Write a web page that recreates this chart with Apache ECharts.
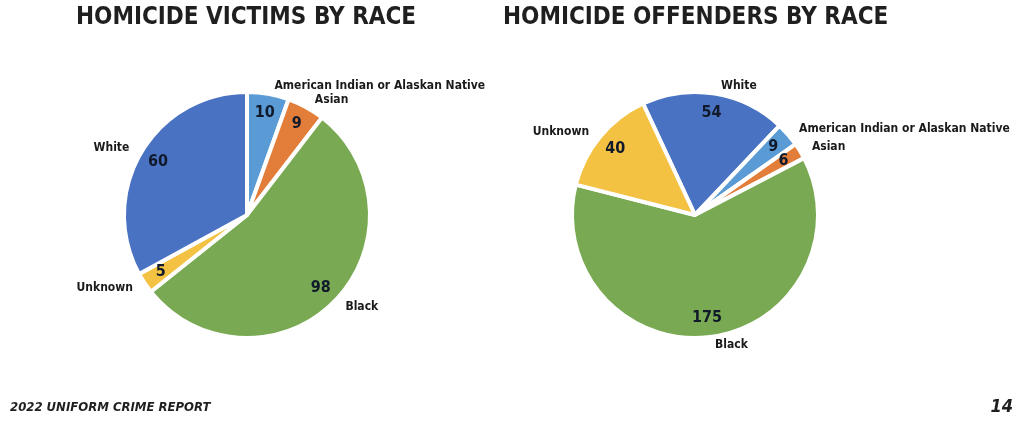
<!DOCTYPE html>
<html>
<head>
<meta charset="utf-8">
<script src="https://cdn.jsdelivr.net/npm/echarts@6/dist/echarts.min.js"></script>
<style>
html,body{margin:0;padding:0;background:#fff;}
#chart{width:1024px;height:425px;}
</style>
</head>
<body>
<div id="chart"></div>
<script>
const categories = ['American Indian or Alaskan Native', 'Asian', 'Black', 'Unknown', 'White'];
const victims = [10, 9, 98, 5, 60];
const offenders = [9, 6, 175, 40, 54];
const victimOrder = [0, 1, 2, 3, 4];
const offenderOrder = [4, 0, 1, 2, 3];
const colors = {
  'American Indian or Alaskan Native': '#5B9BD5',
  'Asian': '#E37D3A',
  'Black': '#79AA53',
  'Unknown': '#F4C242',
  'White': '#4A72C2'
};
const titles = ['HOMICIDE VICTIMS BY RACE', 'HOMICIDE OFFENDERS BY RACE'];
const footer = '2022 UNIFORM CRIME REPORT';
const pageNum = '14';

const FONT = "'DejaVu Sans Condensed', 'Liberation Sans Narrow', sans-serif";

function buildData(values, order) {
  return order.map(i => ({
    name: categories[i],
    value: values[i],
    itemStyle: { color: colors[categories[i]] }
  }));
}

function pieSeries(values, order, center, startAngle) {
  const data = buildData(values, order);
  return [
    {
      type: 'pie',
      center: center,
      radius: 123,
      startAngle: startAngle,
      clockwise: true,
      silent: true,
      avoidLabelOverlap: true,
      itemStyle: { borderColor: '#fff', borderWidth: 4 },
      label: {
        show: true,
        position: 'outside',
        formatter: '{b}',
        color: '#1a1a1a',
        fontFamily: FONT,
        fontWeight: 'bold',
        fontSize: 12,
        overflow: 'none'
      },
      labelLine: { show: false, length: 8, length2: 0 },
      emphasis: { disabled: true },
      data: data
    },
    {
      type: 'pie',
      center: center,
      radius: [78, 123],
      startAngle: startAngle,
      clockwise: true,
      silent: true,
      itemStyle: { color: 'rgba(0,0,0,0)', borderWidth: 0 },
      label: {
        show: true,
        position: 'inside',
        formatter: '{c}',
        color: '#111a2a',
        fontFamily: FONT,
        fontWeight: 'bold',
        fontSize: 16
      },
      labelLine: { show: false },
      emphasis: { disabled: true },
      data: data.map(d => ({ name: d.name, value: d.value }))
    }
  ];
}

const chart = echarts.init(document.getElementById('chart'), null, { renderer: 'canvas' });
chart.setOption({
  backgroundColor: '#fff',
  animation: false,
  title: [
    { text: titles[0], left: 76, top: 6, padding: 0, textStyle: { fontFamily: FONT, fontWeight: 'bold', fontSize: 24, color: '#1f1f1f' } },
    { text: titles[1], left: 503, top: 6, padding: 0, textStyle: { fontFamily: FONT, fontWeight: 'bold', fontSize: 24, color: '#1f1f1f' } },
    { text: footer, left: 10, top: 401, padding: 0, textStyle: { fontFamily: FONT, fontWeight: 'bold', fontStyle: 'italic', fontSize: 13, color: '#1f1f1f' } },
    { text: pageNum, right: 11, top: 398, padding: 0, textStyle: { fontFamily: FONT, fontWeight: 'bold', fontStyle: 'italic', fontSize: 18, color: '#1f1f1f' } }
  ],
  series: [
    ...pieSeries(victims, victimOrder, [247, 215], 90),
    ...pieSeries(offenders, offenderOrder, [695, 215], 115)
  ]
});
</script>
</body>
</html>
